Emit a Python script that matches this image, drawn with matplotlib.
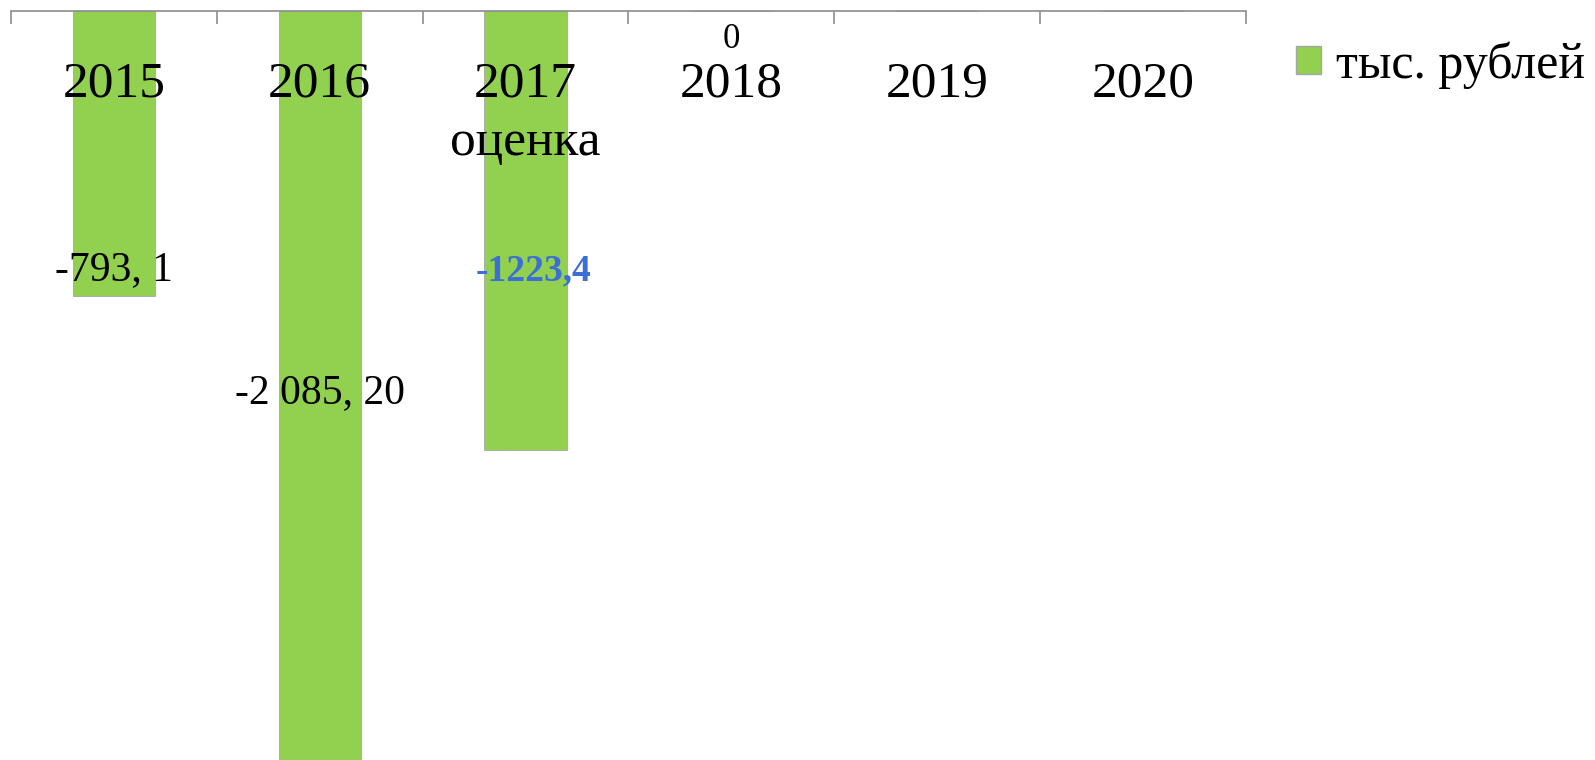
import matplotlib.pyplot as plt
import matplotlib.transforms as mtransforms
from matplotlib.patches import Patch

plt.rcParams["font.family"] = ["Liberation Serif", "DejaVu Serif"]

# data
years = ["2015", "2016", "2017\nоценка", "2018", "2019", "2020"]
values = [-793.1, -2085.2, -1223.4, 0, None, None]
value_labels = ["-793, 1", "-2 085, 20", "-1223,4", "0", "", ""]
series_name = "тыс. рублей"

bar_color = "#92d050"
axis_color = "#8c8c8c"

fig = plt.figure(figsize=(15.95, 7.6), dpi=100)
ax = fig.add_axes([11 / 1595, 0, 1235 / 1595, 1 - 11 / 760])

x = list(range(len(years)))
heights = [v if v is not None else 0 for v in values]
bars = ax.bar(x, heights, width=0.4, color=bar_color, edgecolor="#a6a6a6",
              linewidth=0.6, zorder=1)

ax.set_xlim(-0.5, len(years) - 0.5)
ax.set_ylim(-2086, 0)

for s in ["left", "right", "bottom"]:
    ax.spines[s].set_visible(False)
ax.spines["top"].set_color(axis_color)
ax.spines["top"].set_linewidth(1.2)

ax.set_yticks([])
ax.xaxis.set_ticks_position("top")
ax.set_xticks([i - 0.5 for i in range(len(years) + 1)])
ax.set_xticklabels([])
ax.tick_params(axis="x", direction="in", length=9, width=1.2, color=axis_color)

# category labels under the axis line
trans = mtransforms.blended_transform_factory(ax.transData, ax.transAxes)
for i, lab in enumerate(years):
    ax.text(i, 0.933, lab, transform=trans, ha="center", va="top",
            fontsize=37, linespacing=1.32, zorder=3)

# value labels
label_pos = [-720, -1063, -725, 0]
for i, (lab, yp) in enumerate(zip(value_labels[:4], label_pos)):
    if i == 2:
        ax.text(i + 0.04, yp, lab, ha="center", va="center", fontsize=27,
                color="#3c6fd6", fontweight="bold", zorder=3)
    elif i == 3:
        ax.text(i, 0.962, lab, transform=trans, ha="center", va="center",
                fontsize=25, zorder=3)
    else:
        ax.text(i, yp, lab, ha="center", va="center", fontsize=30, zorder=3)

fig.legend(handles=[Patch(facecolor=bar_color, edgecolor="#a6a6a6")],
           labels=[series_name], loc="center left",
           bbox_to_anchor=(1296 / 1595, 1 - 65 / 760), frameon=False,
           fontsize=36, handlelength=0.5, handleheight=0.5,
           handletextpad=0.3, borderpad=0, borderaxespad=0)

fig.savefig("out.png", dpi=100)
